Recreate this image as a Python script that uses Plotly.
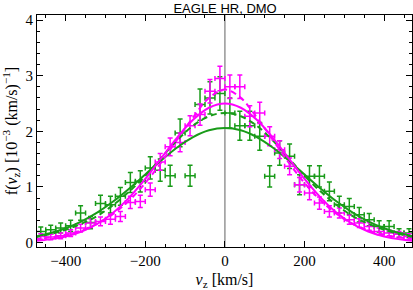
import plotly.graph_objects as go

# bin centres (km/s) shared by both data sets
v_bins = [-462.5, -437.5, -412.5, -387.5, -362.5, -337.5, -312.5, -287.5, -262.5, -237.5,
          -212.5, -187.5, -162.5, -137.5, -112.5, -87.5, -62.5, -37.5, -12.5,
          12.5, 37.5, 62.5, 87.5, 112.5, 137.5, 162.5, 187.5, 212.5, 237.5,
          262.5, 287.5, 312.5, 337.5, 362.5, 387.5, 412.5, 437.5, 462.5]
v_halfbin = 12.5

green_f = [0.20, 0.23, 0.26, 0.30, 0.53, 0.36, 0.70, 0.68, 0.83, 1.08,
           1.10, 1.34, 1.30, 1.20, 1.97, 1.20, 2.48, 2.60, 2.68,
           2.33, 2.10, 2.10, 1.91, 1.19, 1.61, 1.55, 1.04, 1.19, 1.19,
           0.92, 0.68, 0.65, 0.50, 0.41, 0.29, 0.29, 0.17, 0.17]
green_err = [0.08, 0.08, 0.09, 0.10, 0.13, 0.11, 0.15, 0.15, 0.16, 0.18,
             0.19, 0.20, 0.20, 0.19, 0.25, 0.19, 0.28, 0.29, 0.30,
             0.27, 0.26, 0.26, 0.25, 0.19, 0.22, 0.22, 0.18, 0.19, 0.19,
             0.17, 0.15, 0.14, 0.13, 0.11, 0.10, 0.10, 0.08, 0.08]

magenta_f = [0.11, 0.10, 0.12, 0.17, 0.26, 0.35, 0.38, 0.42, 0.47, 0.72,
             0.74, 0.95, 1.45, 1.72, 1.80, 2.10, 2.30, 2.72, 2.95,
             2.80, 2.80, 2.27, 2.33, 1.91, 1.67, 1.37, 1.04, 0.89, 0.71,
             0.56, 0.53, 0.41, 0.35, 0.29, 0.20, 0.17, 0.15, 0.11]
magenta_err = [0.05, 0.05, 0.05, 0.06, 0.07, 0.08, 0.08, 0.09, 0.09, 0.11,
               0.11, 0.12, 0.15, 0.16, 0.17, 0.18, 0.19, 0.21, 0.22,
               0.21, 0.21, 0.19, 0.19, 0.17, 0.16, 0.15, 0.13, 0.12, 0.11,
               0.10, 0.09, 0.08, 0.08, 0.07, 0.06, 0.05, 0.05, 0.05]

# fitted curves, read at these velocities
v_curve = [-480, -440, -400, -360, -320, -280, -240, -200, -160, -120, -80, -40, 0,
           40, 80, 120, 160, 200, 240, 280, 320, 360, 400, 440, 480]
magenta_fit = [0.028, 0.057, 0.110, 0.199, 0.338, 0.541, 0.812, 1.144, 1.516, 1.887, 2.206, 2.423, 2.50,
               2.423, 2.206, 1.887, 1.516, 1.144, 0.812, 0.541, 0.338, 0.199, 0.110, 0.057, 0.028]
magenta_fit2 = [0.06, 0.09, 0.14, 0.22, 0.34, 0.52, 0.76, 1.07, 1.44, 1.85, 2.25, 2.60, 2.75,
                2.60, 2.25, 1.85, 1.44, 1.07, 0.76, 0.52, 0.34, 0.22, 0.14, 0.09, 0.06]
green_fit = [0.103, 0.166, 0.257, 0.381, 0.543, 0.742, 0.973, 1.224, 1.476, 1.708, 1.895, 2.018, 2.06,
             2.018, 1.895, 1.708, 1.476, 1.224, 0.973, 0.742, 0.543, 0.381, 0.257, 0.166, 0.103]
green_fit2 = [0.09, 0.15, 0.23, 0.34, 0.48, 0.68, 0.92, 1.20, 1.52, 1.84, 2.10, 2.27, 2.33,
              2.27, 2.10, 1.84, 1.52, 1.20, 0.92, 0.68, 0.48, 0.34, 0.23, 0.15, 0.09]

GREEN = "rgb(25,155,25)"
MAGENTA = "rgb(255,0,255)"

fig = go.Figure()

for f, e, c in [(green_f, green_err, GREEN), (magenta_f, magenta_err, MAGENTA)]:
    fig.add_trace(go.Scatter(
        x=v_bins, y=f, mode="markers",
        marker=dict(size=1, color=c),
        error_y=dict(type="data", array=e, color=c, thickness=1.5, width=2.5),
        error_x=dict(type="constant", value=v_halfbin, color=c, thickness=1.5, width=2.5),
        showlegend=False, hoverinfo="skip"))

for y, c, d in [(green_fit, GREEN, "solid"), (green_fit2, GREEN, "dash"),
                (magenta_fit, MAGENTA, "solid"), (magenta_fit2, MAGENTA, "dash")]:
    fig.add_trace(go.Scatter(
        x=v_curve, y=y, mode="lines",
        line=dict(color=c, width=2, dash=d if d == "solid" else "6px,4px", shape="spline"),
        showlegend=False, hoverinfo="skip"))

fig.add_shape(type="line", xref="x", yref="paper", x0=0, x1=0, y0=0, y1=1,
              line=dict(color="rgb(150,150,150)", width=1.5), layer="below")

serif = "Liberation Serif, Times New Roman, serif"
axis_common = dict(
    showgrid=False, zeroline=False, showline=True, linecolor="black", linewidth=1,
    mirror="allticks", ticks="inside", ticklen=6, tickwidth=1, tickcolor="black",
    tickfont=dict(family=serif, size=15, color="black"), automargin=False,
)

fig.update_layout(
    width=413, height=290,
    margin=dict(l=37, r=1, t=15, b=43),
    paper_bgcolor="white", plot_bgcolor="white",
    title=dict(text="EAGLE HR, DMO", x=0.545, xanchor="center", y=0.985, yanchor="top",
               font=dict(family="Liberation Sans, Arial, sans-serif", size=13, color="black")),
    xaxis=dict(range=[-472, 470], dtick=200, tick0=0,
               minor=dict(dtick=50, ticks="inside", ticklen=3, tickcolor="black"),
               title=dict(text="<i>v</i><sub>z</sub> [km/s]",
                          font=dict(family=serif, size=16, color="black")),
               **axis_common),
    yaxis=dict(range=[-0.08, 4.09], dtick=1, tick0=0,
               minor=dict(dtick=0.2, ticks="inside", ticklen=3, tickcolor="black"),
               title=dict(text="f(<i>v</i><sub>z</sub>) [10<sup>\u22123</sup> (km/s)<sup>\u22121</sup>]",
                          font=dict(family=serif, size=16, color="black")),
               **axis_common),
)

fig.write_html("out.html", config={"displayModeBar": False},
               post_script="document.body.style.margin='0';document.body.style.overflow='hidden';")
